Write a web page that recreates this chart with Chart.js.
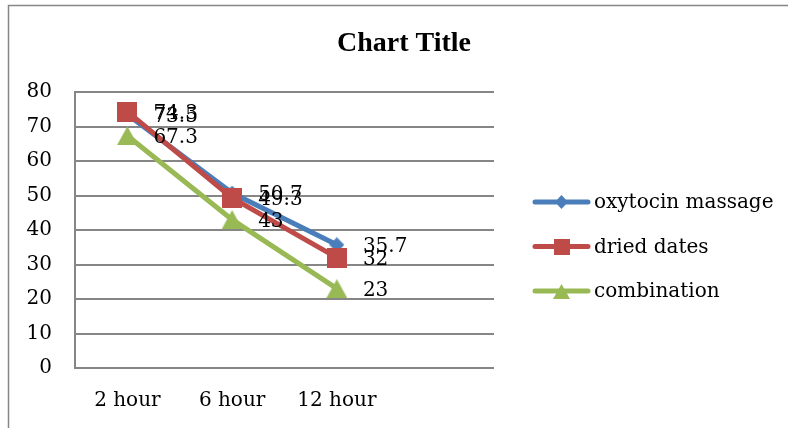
<!DOCTYPE html>
<html>
<head>
<meta charset="utf-8">
<script src="https://cdn.jsdelivr.net/npm/chart.js@4/dist/chart.umd.min.js"></script>
<style>
  html, body { margin: 0; padding: 0; background: #fff; }
  #wrap { width: 788px; height: 428px; position: relative; }
</style>
</head>
<body>
<div id="wrap"><canvas id="c" width="788" height="428"></canvas></div>
<script>
// Categories on the x axis (the fourth slot is empty, as in the original sheet)
const categories = ['2 hour', '6 hour', '12 hour', ''];

// Series values
const oxytocinMassage = [73.5, 50.7, 35.7, null];
const driedDates      = [74.3, 49.3, 32, null];
const combination     = [67.3, 43, 23, null];

const seriesNames = ['oxytocin massage', 'dried dates', 'combination'];

// Y axis range
const yMin = 0, yMax = 80, yStep = 10;

const chartTitle = 'Chart Title';

const FONT = '"DejaVu Serif", serif';
const GRID = '#868686';

const colors = ['#4A7EBB', '#BE4B48', '#98B954'];
const shapes = ['diamond', 'square', 'triangle'];
// marker box sizes [width, height] on the plot and in the legend
const plotMarkerSize   = [[15, 15], [20, 20], [21, 19]];
const legendMarkerSize = [[13, 14], [16, 16], [17, 15]];

// Draw a marker shape centred in its own small canvas, used as a point style
function makeMarker(shape, w, h, color) {
  const cv = document.createElement('canvas');
  cv.width = w; cv.height = h;
  const ctx = cv.getContext('2d');
  ctx.fillStyle = color;
  ctx.beginPath();
  if (shape === 'diamond') {
    ctx.moveTo(w / 2, 0); ctx.lineTo(w, h / 2); ctx.lineTo(w / 2, h); ctx.lineTo(0, h / 2);
  } else if (shape === 'square') {
    ctx.rect(0, 0, w, h);
  } else {
    ctx.moveTo(w / 2, 0); ctx.lineTo(w, h); ctx.lineTo(0, h);
  }
  ctx.closePath();
  ctx.fill();
  return cv;
}

const plotMarkers = shapes.map((s, i) => makeMarker(s, plotMarkerSize[i][0], plotMarkerSize[i][1], colors[i]));
const legendMarkers = shapes.map((s, i) => makeMarker(s, legendMarkerSize[i][0], legendMarkerSize[i][1], colors[i]));

// Outer frame, title, value labels and legend
const decorations = {
  id: 'decorations',
  beforeDraw(chart) {
    const ctx = chart.ctx;
    ctx.save();
    ctx.strokeStyle = GRID;
    ctx.lineWidth = 1.5;
    ctx.beginPath();
    ctx.moveTo(8.5, chart.height + 2);
    ctx.lineTo(8.5, 5.5);
    ctx.lineTo(chart.width + 2, 5.5);
    ctx.stroke();
    ctx.restore();
  },
  afterDatasetsDraw(chart) {
    const ctx = chart.ctx;
    ctx.save();
    ctx.font = '20px ' + FONT;
    ctx.fillStyle = '#000';
    ctx.textAlign = 'left';
    ctx.textBaseline = 'middle';
    chart.data.datasets.forEach((ds, i) => {
      const meta = chart.getDatasetMeta(i);
      meta.data.forEach((pt, j) => {
        const v = ds.data[j];
        if (v === null || v === undefined) return;
        ctx.fillText(String(v), pt.x + 26, pt.y + 2);
      });
    });
    ctx.restore();
  },
  afterDraw(chart) {
    const ctx = chart.ctx;
    ctx.save();
    // title
    ctx.font = 'bold 28px "Liberation Serif", serif';
    ctx.fillStyle = '#000';
    ctx.textAlign = 'center';
    ctx.textBaseline = 'middle';
    ctx.fillText(chartTitle, 404, 44);
    // legend
    const lx0 = 535, lx1 = 588, top = 202, gap = 44.5;
    ctx.font = '20px ' + FONT;
    ctx.textAlign = 'left';
    chart.data.datasets.forEach((ds, i) => {
      const y = top + i * gap;
      ctx.strokeStyle = ds.borderColor;
      ctx.lineWidth = 5;
      ctx.lineCap = 'round';
      ctx.beginPath();
      ctx.moveTo(lx0, y); ctx.lineTo(lx1, y);
      ctx.stroke();
      const m = legendMarkers[i];
      ctx.drawImage(m, Math.round((lx0 + lx1) / 2 - m.width / 2), Math.round(y - m.height / 2));
      ctx.fillStyle = '#000';
      ctx.fillText(ds.label, lx1 + 6, y + 1);
    });
    ctx.restore();
  }
};

const seriesValues = [oxytocinMassage, driedDates, combination];

new Chart(document.getElementById('c'), {
  type: 'line',
  data: {
    labels: categories,
    datasets: seriesValues.map((vals, i) => ({
      label: seriesNames[i],
      data: vals,
      borderColor: colors[i],
      backgroundColor: colors[i],
      borderWidth: 5,
      borderCapStyle: 'round',
      tension: 0,
      pointStyle: plotMarkers[i],
      pointRadius: 8,
      pointBorderWidth: 0,
      order: 2 - i,
      fill: false
    }))
  },
  options: {
    responsive: false,
    animation: false,
    events: [],
    layout: { padding: { top: 92, right: 294, bottom: 0, left: 0 } },
    plugins: {
      legend: { display: false },
      title: { display: false },
      tooltip: { enabled: false }
    },
    scales: {
      x: {
        offset: true,
        grid: { display: false, drawTicks: false },
        border: { display: false },
        ticks: { color: '#000', font: { family: FONT, size: 20 }, padding: 21, maxRotation: 0, autoSkip: false },
        afterFit(scale) { scale.height = 60; }
      },
      y: {
        min: yMin,
        max: yMax,
        ticks: { stepSize: yStep, color: '#000', font: { family: FONT, size: 20 }, padding: 23 },
        grid: { color: GRID, lineWidth: 2, drawTicks: false },
        border: { display: true, color: GRID, width: 2 },
        afterFit(scale) { scale.width = 75; }
      }
    }
  },
  plugins: [decorations]
});
</script>
</body>
</html>
